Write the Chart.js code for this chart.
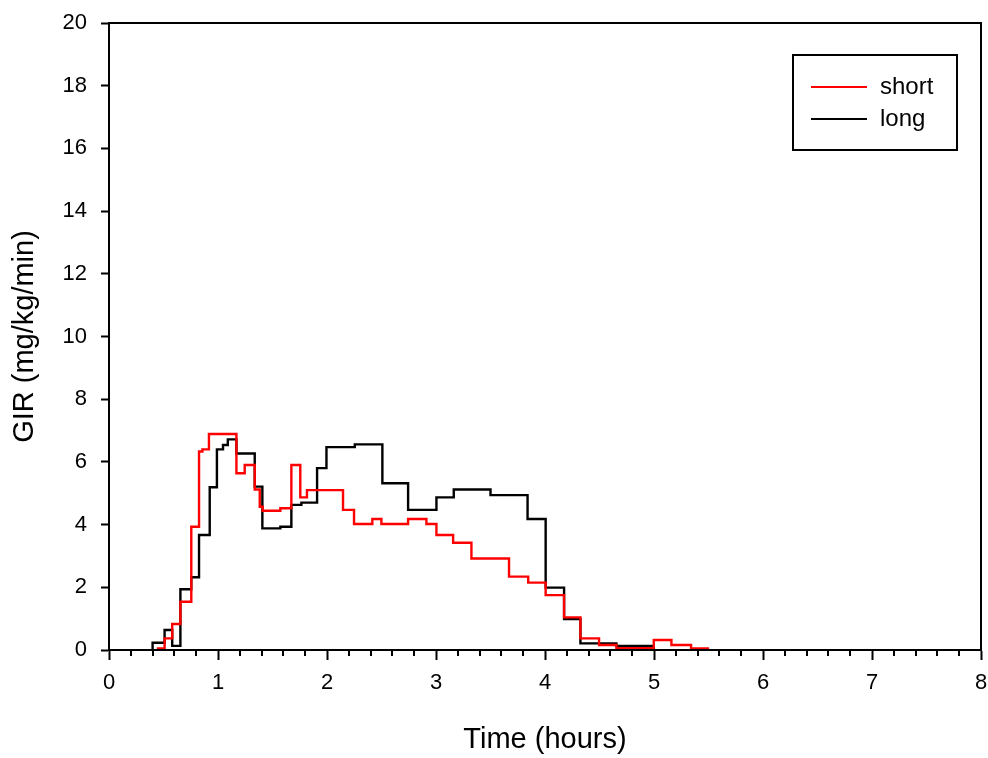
<!DOCTYPE html>
<html>
<head>
<meta charset="utf-8">
<title>GIR</title>
<script src="https://cdn.jsdelivr.net/npm/chart.js@4/dist/chart.umd.min.js"></script>
<style>
    html, body { margin: 0; padding: 0; background: #fff; }
    #wrap { position: relative; width: 988px; height: 758px; }
</style>
</head>
<body>
<div id="wrap"><canvas id="girChart"></canvas></div>
<script>
// Step series: each value holds from its time until the next time (hours)
const shortTimes = [0.45, 0.45, 0.51, 0.58, 0.655, 0.755, 0.826, 0.857, 0.917, 1.169, 1.245, 1.337, 1.383, 1.41,
    1.572, 1.673, 1.755, 1.816, 2.147, 2.248, 2.416, 2.499, 2.744, 2.912, 3.004, 3.157, 3.325, 3.67,
    3.846, 4.006, 4.175, 4.325, 4.496, 4.655, 4.998, 5.16, 5.34, 5.495];
const shortValues = [0, 0.05, 0.37, 0.83, 1.54, 3.93, 6.33, 6.40, 6.89, 5.64, 5.90, 5.12, 4.57, 4.44,
    4.52, 5.90, 4.87, 5.10, 4.47, 4.02, 4.18, 4.02, 4.18, 4.02, 3.67, 3.42, 2.92, 2.34,
    2.15, 1.75, 1.04, 0.37, 0.16, 0.06, 0.32, 0.16, 0.05, 0];

const longTimes = [0.40, 0.40, 0.51, 0.58, 0.655, 0.755, 0.826, 0.924, 0.99, 1.046, 1.09, 1.169, 1.337, 1.407,
    1.572, 1.673, 1.765, 1.909, 1.995, 2.255, 2.508, 2.744, 3.004, 3.163, 3.50, 3.84, 4.006,
    4.175, 4.325, 4.655, 4.998];
const longValues = [0, 0.23, 0.64, 0.13, 1.94, 2.32, 3.67, 5.19, 6.40, 6.54, 6.72, 6.27, 5.21, 3.88,
    3.93, 4.63, 4.70, 5.80, 6.47, 6.56, 5.32, 4.47, 4.87, 5.12, 4.94, 4.18, 1.99,
    0.99, 0.21, 0.13, 0];

const seriesLabels = ['short', 'long'];
const seriesColors = ['#ff0000', '#000000'];

const FONT = '"Liberation Sans", Arial, sans-serif';

function toPoints(times, values) {
    return times.map((t, i) => ({ x: t, y: values[i] }));
}

/**
 * Closes the plot frame, adds minor x ticks and draws the boxed legend
 */
const framePlugin = {
    id: 'frame',
    afterDraw(chart) {
        const ctx = chart.ctx;
        const area = chart.chartArea;
        const xScale = chart.scales.x;

        ctx.save();
        ctx.strokeStyle = '#000';
        ctx.lineWidth = 2;
        ctx.strokeRect(area.left, area.top, area.right - area.left, area.bottom - area.top);

        // minor ticks every 0.2 h
        ctx.beginPath();
        for (let i = 1; i < 40; i++) {
            if (i % 5 === 0) continue;
            const px = Math.round(xScale.getPixelForValue(i / 5));
            ctx.moveTo(px, area.bottom);
            ctx.lineTo(px, area.bottom + 6);
        }
        ctx.stroke();

        // legend
        const boxLeft = area.right - 188;
        const boxTop = area.top + 32;
        ctx.strokeRect(boxLeft, boxTop, 164, 95);
        ctx.font = '24px ' + FONT;
        ctx.textBaseline = 'middle';
        ctx.textAlign = 'left';
        chart.data.datasets.forEach((ds, i) => {
            const y = boxTop + 32 + i * 32;
            ctx.strokeStyle = ds.borderColor;
            ctx.beginPath();
            ctx.moveTo(boxLeft + 18, y);
            ctx.lineTo(boxLeft + 74, y);
            ctx.stroke();
            ctx.fillStyle = '#000';
            ctx.fillText(ds.label, boxLeft + 87, y);
        });
        ctx.restore();
    }
};

function initializeChart() {
    const ctx = document.getElementById('girChart').getContext('2d');
    return new Chart(ctx, {
        type: 'line',
        data: {
            datasets: [
                {
                    label: seriesLabels[0],
                    data: toPoints(shortTimes, shortValues),
                    borderColor: seriesColors[0],
                    borderWidth: 2.4,
                    stepped: true,
                    pointRadius: 0,
                    fill: false
                },
                {
                    label: seriesLabels[1],
                    data: toPoints(longTimes, longValues),
                    borderColor: seriesColors[1],
                    borderWidth: 2.4,
                    stepped: true,
                    pointRadius: 0,
                    fill: false
                }
            ]
        },
        options: {
            responsive: true,
            maintainAspectRatio: false,
            animation: false,
            layout: {
                padding: { left: 0, top: 23, right: 7, bottom: 0 }
            },
            plugins: {
                legend: { display: false },
                tooltip: { enabled: false }
            },
            scales: {
                x: {
                    type: 'linear',
                    min: 0,
                    max: 8,
                    afterFit: (scale) => {
                        scale.height = 108;
                        scale.paddingLeft = 0;
                        scale.paddingRight = 0;
                    },
                    ticks: {
                        stepSize: 1,
                        color: '#000',
                        padding: 10,
                        maxRotation: 0,
                        font: { family: FONT, size: 22 }
                    },
                    grid: {
                        drawOnChartArea: false,
                        tickLength: 10,
                        tickWidth: 2,
                        tickColor: '#000'
                    },
                    border: { color: '#000', width: 2 },
                    title: {
                        display: true,
                        text: 'Time (hours)',
                        color: '#000',
                        font: { family: FONT, size: 29 },
                        padding: { top: 0, bottom: 1 }
                    }
                },
                y: {
                    min: 0,
                    max: 20,
                    afterFit: (scale) => {
                        scale.width = 109;
                        scale.paddingTop = 0;
                        scale.paddingBottom = 0;
                    },
                    ticks: {
                        stepSize: 2,
                        color: '#000',
                        padding: 14,
                        font: { family: FONT, size: 22 }
                    },
                    grid: {
                        drawOnChartArea: false,
                        tickLength: 8,
                        tickWidth: 2,
                        tickColor: '#000'
                    },
                    border: { color: '#000', width: 2 },
                    title: {
                        display: true,
                        text: 'GIR (mg/kg/min)',
                        color: '#000',
                        font: { family: FONT, size: 29 },
                        padding: { top: 8, bottom: 0 }
                    }
                }
            }
        },
        plugins: [framePlugin]
    });
}

document.addEventListener('DOMContentLoaded', () => {
    initializeChart();
});
</script>
</body>
</html>
